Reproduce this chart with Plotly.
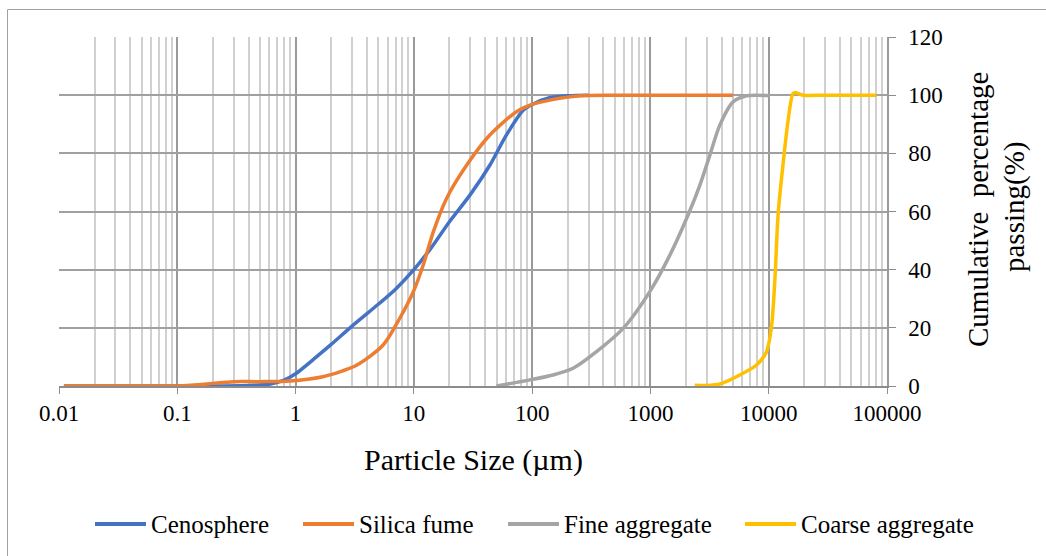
import plotly.graph_objects as go

# Particle size distribution data (size in µm, cumulative % passing)
ceno_size = [0.011, 0.05, 0.1, 0.2, 0.4, 0.6, 0.8, 1.0, 1.5, 2.0, 3.0, 5.0, 7.0, 10, 14, 20, 30, 44, 60, 84, 100, 140, 200, 300]
ceno_pass = [0, 0, 0, 0, 0.2, 0.6, 2.0, 4.2, 10, 14.3, 20.6, 28.1, 33.3, 40, 47.5, 56.5, 65.8, 76, 86, 94.8, 96.8, 99.1, 99.8, 100]

silica_size = [0.011, 0.05, 0.1, 0.15, 0.2, 0.3, 0.5, 0.9, 1.7, 2.5, 3.3, 5.5, 7.6, 9.9, 12, 14.6, 18.9, 27.9, 43.9, 73.8, 100, 141, 253, 500, 1000, 5000]
silica_pass = [0, 0, 0, 0.4, 0.9, 1.5, 1.5, 1.7, 3.2, 5.2, 7.2, 14.1, 23.3, 32.4, 41.6, 53, 64.5, 75.9, 86.3, 94.3, 96.8, 98.3, 99.8, 100, 100, 100]

fine_size = [50, 96, 150, 222, 350, 588, 1000, 1460, 2080, 2620, 3180, 3860, 5000, 6500, 8000, 10200]
fine_pass = [0, 2.1, 3.8, 6.1, 11.8, 19.8, 32.8, 45, 58.8, 69.1, 79.4, 89.7, 97.7, 99.8, 100, 99.8]

coarse_size = [2370, 3000, 3860, 5700, 7890, 9580, 10560, 11270, 12020, 13240, 14590, 16070, 16950, 19540, 30000, 50000, 81500]
coarse_pass = [0.3, 0.2, 0.7, 3.8, 7.2, 11.8, 20.4, 36.4, 59.3, 76.5, 91.4, 100.6, 100.8, 100, 100, 100, 100]

x_tick_vals = [0.01, 0.1, 1, 10, 100, 1000, 10000, 100000]
x_tick_text = ["0.01", "0.1", "1", "10", "100", "1000", "10000", "100000"]

series_names = ["Cenosphere", "Silica fume", "Fine aggregate", "Coarse aggregate"]
series_colors = ["#4472C4", "#ED7D31", "#A5A5A5", "#FFC000"]
series_x = [ceno_size, silica_size, fine_size, coarse_size]
series_y = [ceno_pass, silica_pass, fine_pass, coarse_pass]

FONT = "Liberation Serif"

fig = go.Figure()
for name, xs, ys, color in zip(series_names, series_x, series_y, series_colors):
    fig.add_trace(go.Scatter(
        x=xs, y=ys, name=name, mode="lines", showlegend=False,
        line=dict(color=color, width=3.5, shape="spline", smoothing=0.8),
    ))

W, H = 1046, 556
L, R, T, B = 59, 887, 37, 386

fig.update_layout(
    width=W, height=H,
    margin=dict(l=L, r=W - R, t=T, b=H - B, autoexpand=False),
    paper_bgcolor="white", plot_bgcolor="white",
    font=dict(family=FONT, size=23, color="black"),
    showlegend=False,
    xaxis=dict(
        type="log", range=[-2, 5],
        tickvals=x_tick_vals, ticktext=x_tick_text,
        ticks="outside", ticklen=6, tickcolor="#8c8c8c", tickwidth=1.3,
        showgrid=True, gridcolor="#9a9a9a", gridwidth=1.5,
        showline=True, linecolor="#8c8c8c", linewidth=1.5,
        minor=dict(dtick="D1", showgrid=True, gridcolor="#d0d0d0", gridwidth=1.5, ticks=""),
        zeroline=False, tickfont=dict(family=FONT, size=23),
    ),
    yaxis=dict(
        side="right", range=[0, 120], dtick=20,
        ticks="outside", ticklen=7, tickcolor="#8c8c8c", tickwidth=1.3,
        ticklabelstandoff=8,
        showgrid=True, gridcolor="#a0a0a0", gridwidth=1.5,
        showline=True, linecolor="#9a9a9a", linewidth=1.5,
        zeroline=False, tickfont=dict(family=FONT, size=23),
    ),
)

px = lambda v: (v - L) / (R - L)
py = lambda v: (B - v) / (B - T)

# Axis titles
fig.add_annotation(
    text="Particle Size (µm)", xref="paper", yref="paper",
    x=px(473), y=py(460), xanchor="center", yanchor="middle",
    showarrow=False, font=dict(family=FONT, size=30),
)
for line_text, cx, cy in [("Cumulative  percentage", 978, 210), ("passing(%)", 1014, 207)]:
    fig.add_annotation(
        text=line_text, xref="paper", yref="paper", x=px(cx), y=py(cy),
        xanchor="center", yanchor="middle", textangle=-90, showarrow=False,
        font=dict(family=FONT, size=29),
    )

# Legend row below the plot
legend_line_x = [95, 303, 508, 745]
legend_y = 524
for name, color, lx in zip(series_names, series_colors, legend_line_x):
    fig.add_shape(type="line", xref="paper", yref="paper",
                  x0=px(lx), x1=px(lx + 51), y0=py(legend_y), y1=py(legend_y),
                  line=dict(color=color, width=4))
    fig.add_annotation(text=name, xref="paper", yref="paper",
                       x=px(lx + 54), y=py(legend_y), xanchor="left", yanchor="middle",
                       showarrow=False, font=dict(family=FONT, size=25))

# Outer chart frame (left and top edges)
fig.add_shape(type="line", xref="paper", yref="paper",
              x0=px(7.5), x1=px(7.5), y0=py(9.5), y1=py(560),
              line=dict(color="#a0a0a0", width=1))
fig.add_shape(type="line", xref="paper", yref="paper",
              x0=px(7.5), x1=px(1050), y0=py(9.5), y1=py(9.5),
              line=dict(color="#a0a0a0", width=1))

fig.write_html("out.html")
